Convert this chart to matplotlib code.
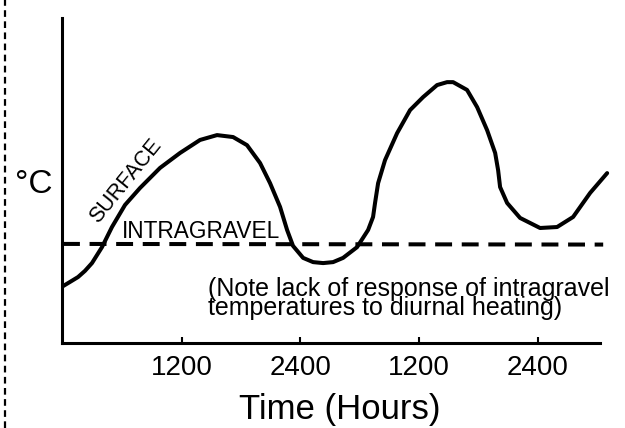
import matplotlib.pyplot as plt
from matplotlib.lines import Line2D

plt.rcParams['font.family'] = ['Liberation Sans', 'DejaVu Sans']

# Surface temperature trace (hours from start, relative temperature units)
hours = [0, 71, 152, 222, 293, 394, 495, 627, 778, 981, 1183, 1385, 1557,
         1719, 1860, 1992, 2093, 2194, 2265, 2325, 2427, 2528, 2629, 2730,
         2831, 2972, 3084, 3134, 3154, 3185, 3255, 3377, 3508, 3640, 3781,
         3882, 3943, 4084, 4186, 4287, 4368, 4398, 4418, 4489, 4620, 4822,
         4994, 5156, 5328, 5500]
surface = [1.75, 1.88, 2.03, 2.22, 2.46, 2.95, 3.57, 4.25, 4.77, 5.39, 5.85,
           6.25, 6.40, 6.34, 6.09, 5.54, 4.92, 4.19, 3.48, 2.99, 2.62, 2.49,
           2.46, 2.49, 2.62, 2.95, 3.48, 3.88, 4.31, 4.92, 5.63, 6.46, 7.17,
           7.57, 7.94, 8.03, 8.03, 7.79, 7.26, 6.55, 5.85, 5.32, 4.80, 4.31,
           3.85, 3.54, 3.57, 3.88, 4.62, 5.23]

# Intragravel temperature (flat)
gravel_hours = [0, 5460]
gravel = [3.05, 3.03]

tick_hours = [1200, 2400, 3600, 4800]
tick_labels = ['1200', '2400', '1200', '2400']

fig = plt.figure(figsize=(6.25, 4.28), dpi=100)
ax = fig.add_axes([0.0992, 0.1986, 0.861, 0.759])

ax.plot(hours, surface, color='black', linewidth=2.9, clip_on=False,
        solid_capstyle='round', solid_joinstyle='round')
ax.plot(gravel_hours, gravel, color='black', linewidth=2.9, clip_on=False,
        dashes=(4.2, 2.4))

ax.set_xlim(-10, 5429)
ax.set_ylim(0, 10)

for s in ['top', 'right']:
    ax.spines[s].set_visible(False)
ax.spines['left'].set_linewidth(2.2)
ax.spines['bottom'].set_linewidth(2.2)

ax.set_yticks([])
ax.set_xticks(tick_hours)
ax.set_xticklabels(tick_labels, fontsize=20)
ax.tick_params(axis='x', direction='in', length=4, width=1.5, pad=9)

# labels on the curves
ax.text(637, 4.98, 'SURFACE', rotation=51, fontsize=15.5,
        ha='center', va='center', rotation_mode='anchor')
ax.text(596, 3.23, 'INTRAGRAVEL', fontsize=16.3, ha='left', va='baseline')
ax.text(1466, 2.03, '(Note lack of response of intragravel\n'
        'temperatures to diurnal heating)', fontsize=18,
        ha='left', va='top', linespacing=0.72)

fig.text(340 / 625, 1 - 410 / 428, 'Time (Hours)', fontsize=25,
         ha='center', va='center')
fig.text(34 / 625, 1 - 184 / 428, '°C', fontsize=24,
         ha='center', va='center')

# dashed page edge on the left of the scan
fig.add_artist(Line2D([5 / 625, 5 / 625], [0.0, 1.0], color='black',
                      linewidth=1.6, dashes=(3, 2)))

fig.savefig('out.png', dpi=100)
